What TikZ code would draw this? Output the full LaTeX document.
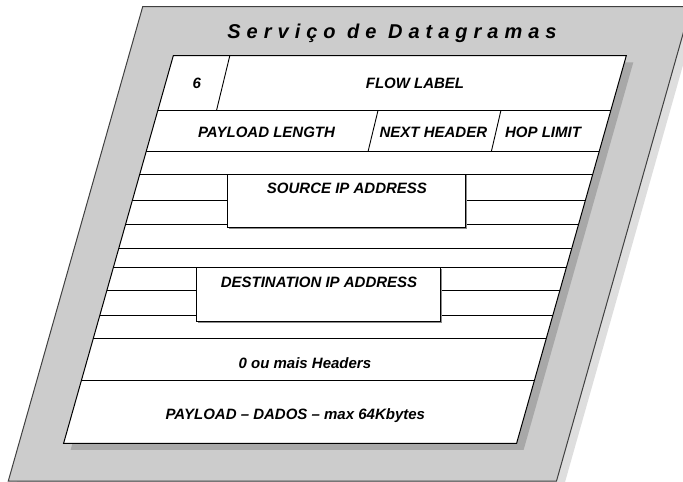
\documentclass[tikz,border=0pt]{standalone}
\usepackage{fontspec}
\setmainfont{Liberation Sans}
\newfontfamily\titlefont[LetterSpace=30]{Liberation Sans}
\definecolor{outergray}{RGB}{204,204,204}
\definecolor{oshadow}{RGB}{222,222,222}
\definecolor{ishadow}{RGB}{168,168,168}
\begin{document}
\begin{tikzpicture}[x=1pt,y=-1pt,
  declare function={xl(\t)=173.3-0.283*(\t-55.7);},
  lbl/.style={font=\bfseries\itshape\fontsize{15}{17}\selectfont, inner sep=0pt, anchor=base},
  ttl/.style={font=\titlefont\bfseries\itshape\fontsize{20}{22}\selectfont, inner sep=0pt, anchor=base},
  rule/.style={line width=0.9pt, draw=black},
  addrbox/.style={fill=white, draw=black, line width=0.9pt},
  addrshadow/.style={fill=black!45},
]
\useasboundingbox (0,0) rectangle (683,482);
\begin{scope}
  \clip (0,0) rectangle (683,482);
  % outer panel shadow and panel
  \fill[oshadow] (149.7,13.2) -- (697.7,13.2) -- (563.5,487.5) -- (15.3,487.5) -- cycle;
  \filldraw[fill=outergray, draw=black!75, line width=1pt]
    (142.7,6.7) -- (690.7,6.7) -- (556.5,481) -- (8.3,481) -- cycle;
\end{scope}
% white frame shadow
\fill[ishadow] (180.3,62.3) -- (633.3,62.3) -- ({xl(443.3)+460},449.9) -- ({xl(443.3)+7},449.9) -- cycle;
% white frame
\filldraw[fill=white, draw=black, line width=1pt]
  (173.3,55.7) -- (626.3,55.7) -- ({xl(443.3)+453},443.3) -- ({xl(443.3)},443.3) -- cycle;
% full-width rules
\foreach \yy in {110.5,151.7,174.5,248.3,267.7,338.5,380.7}
  \draw[rule] ({xl(\yy)},\yy) -- ({xl(\yy)+453},\yy);
% rules broken by source box
\foreach \yy in {200.2,224}{
  \draw[rule] ({xl(\yy)},\yy) -- (227.4,\yy);
  \draw[rule] (465.6,\yy) -- ({xl(\yy)+453},\yy);
}
% rules broken by destination box
\foreach \yy in {290,315}{
  \draw[rule] ({xl(\yy)},\yy) -- (196.4,\yy);
  \draw[rule] (440.3,\yy) -- ({xl(\yy)+453},\yy);
}
% slanted dividers
\draw[rule] (229.8,55.7) -- (216.5,110.5);
\draw[rule] (378,110.5) -- (368,151.7);
\draw[rule] (500.9,110.5) -- (491.3,151.7);
% address boxes
\fill[addrshadow] (228.6,175.2) rectangle (466.8,228.9);
\filldraw[addrbox] (227.4,174) rectangle (465.6,227.7);
\fill[addrshadow] (197.6,268.9) rectangle (441.5,322.9);
\filldraw[addrbox] (196.4,267.7) rectangle (440.3,321.7);
% texts
\node[ttl] (title) at (392,38) {Serviço de Datagramas};
\node[lbl] (six) at (196.7,88) {6};
\node[lbl] (flow) at (415,88) {FLOW LABEL};
\node[lbl] (plen) at (266.5,137) {PAYLOAD LENGTH};
\node[lbl] (nexth) at (433.4,137) {NEXT HEADER};
\node[lbl] (hop) at (543,137) {HOP LIMIT};
\node[lbl] (src) at (347,193) {SOURCE IP ADDRESS};
\node[lbl] (dst) at (319,287) {DESTINATION IP ADDRESS};
\node[lbl] (ext) at (304.9,368.6) {0 ou mais Headers};
\node[lbl] (payload) at (295.3,419.6) {PAYLOAD – DADOS – max 64Kbytes};
\end{tikzpicture}
\end{document}
